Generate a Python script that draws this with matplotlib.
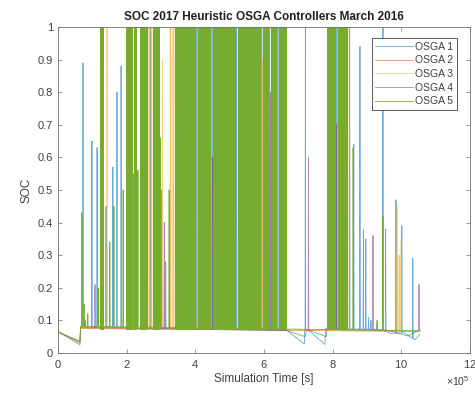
import numpy as np
import matplotlib.pyplot as plt
from matplotlib.ticker import FuncFormatter, ScalarFormatter

plt.rcParams['font.family'] = ['Liberation Sans', 'DejaVu Sans']
plt.rcParams['mathtext.fontset'] = 'custom'
plt.rcParams['mathtext.rm'] = 'Liberation Sans'

# ---------------------------------
# Data, time in seconds
# ---------------------------------
series_names = ["OSGA 1", "OSGA 2", "OSGA 3", "OSGA 4", "OSGA 5"]
series_colors = ["#0072BD", "#D95319", "#EDB120", "#7E2F8E", "#77AC30"]

# slow baseline of each controller (between charging spikes)
base_t_1 = [0, 0.64e5, 0.66e5, 6.66e5, 7.18e5, 7.19e5, 7.32e5, 7.78e5, 7.80e5, 9.40e5, 9.70e5, 10.10e5, 10.40e5, 10.55e5]
base_v_1 = [0.066, 0.025, 0.080, 0.070, 0.028, 0.070, 0.068, 0.026, 0.075, 0.072, 0.060, 0.062, 0.040, 0.058]
base_t_2 = [0, 0.64e5, 0.66e5, 10.55e5]
base_v_2 = [0.065, 0.030, 0.075, 0.066]
base_t_3 = [0, 0.64e5, 0.66e5, 10.55e5]
base_v_3 = [0.065, 0.032, 0.076, 0.066]
base_t_4 = [0, 0.64e5, 0.66e5, 6.66e5, 7.20e5, 7.24e5, 7.36e5, 7.82e5, 7.84e5, 9.60e5, 10.20e5, 10.55e5]
base_v_4 = [0.064, 0.035, 0.078, 0.069, 0.050, 0.069, 0.068, 0.050, 0.072, 0.070, 0.052, 0.072]
base_t_5 = [0, 2.0e3, 0.64e5, 0.66e5, 10.55e5]
base_v_5 = [0.330, 0.064, 0.036, 0.082, 0.068]

# charging spikes: time and peak SOC
spike_t_1 = [0.73e5, 0.99e5, 1.14e5, 1.40e5, 1.60e5, 1.72e5, 1.84e5, 2.04e5, 2.21e5, 2.70e5, 3.02e5,
             3.14e5, 4.05e5, 4.49e5, 5.21e5, 5.94e5, 6.17e5, 6.41e5, 7.21e5, 8.13e5, 8.50e5, 8.62e5,
             8.80e5, 8.90e5, 8.97e5, 9.05e5, 9.12e5, 9.30e5, 9.47e5, 9.55e5, 9.85e5, 10.02e5, 10.34e5]
spike_v_1 = [0.89, 0.65, 0.63, 0.45, 0.57, 0.80, 0.88, 1.00, 0.55, 1.00, 0.50,
             0.28, 1.00, 1.00, 1.00, 1.00, 1.00, 1.00, 1.00, 1.00, 1.00, 0.64,
             0.94, 0.38, 0.35, 0.11, 0.10, 0.09, 1.00, 0.38, 0.47, 0.39, 0.29]
spike_t_2 = [1.25e5, 2.10e5, 3.50e5, 4.80e5, 5.60e5, 8.30e5]
spike_v_2 = [0.60, 1.00, 1.00, 1.00, 1.00, 0.90]
spike_t_3 = [1.43e5, 2.27e5, 2.66e5, 2.72e5, 3.05e5, 3.28e5, 3.36e5, 4.06e5, 5.96e5, 9.88e5, 9.95e5, 10.00e5]
spike_v_3 = [1.00, 1.00, 1.00, 1.00, 0.90, 1.00, 1.00, 0.95, 0.90, 0.45, 0.30, 0.35]
spike_t_4 = [1.08e5, 3.10e5, 4.50e5, 6.19e5, 7.30e5, 8.11e5, 9.18e5, 10.52e5]
spike_v_4 = [0.21, 0.40, 0.60, 0.80, 0.60, 0.70, 0.36, 0.21]
spike_t_5 = [0.70e5, 0.76e5, 0.80e5, 0.87e5, 1.17e5, 1.51e5, 1.63e5, 1.90e5, 2.33e5, 2.98e5,
             3.24e5, 8.60e5, 9.30e5, 9.47e5]
spike_v_5 = [0.43, 0.15, 0.10, 0.12, 0.20, 0.34, 0.45, 0.50, 0.56, 0.66,
             0.50, 0.63, 0.10, 0.42]

# periods where OSGA 5 cycles so fast that it fills 0.07..1
band_start_5 = [1.22e5, 1.98e5, 2.22e5, 2.39e5, 2.77e5, 3.41e5, 4.08e5, 4.52e5, 5.24e5,
                5.97e5, 6.20e5, 6.44e5, 7.84e5, 8.16e5]
band_end_5 = [1.34e5, 2.19e5, 2.30e5, 2.62e5, 2.97e5, 4.02e5, 4.46e5, 5.18e5, 5.91e5,
              6.15e5, 6.38e5, 6.66e5, 8.10e5, 8.45e5]
# periods where OSGA 3 cycles densely (pale streaks)
band_start_3 = [2.62e5, 3.23e5, 8.45e5, 9.85e5]
band_end_3 = [2.77e5, 3.41e5, 8.52e5, 10.03e5]
band_high_3 = [1.0, 1.0, 1.0, 0.30]
band_low, band_high = 0.07, 1.0

bases = [(base_t_1, base_v_1), (base_t_2, base_v_2), (base_t_3, base_v_3),
         (base_t_4, base_v_4), (base_t_5, base_v_5)]
spikes = [(spike_t_1, spike_v_1), (spike_t_2, spike_v_2), (spike_t_3, spike_v_3),
          (spike_t_4, spike_v_4), (spike_t_5, spike_v_5)]


def build_trace(bt, bv, st, sv, half=900):
    t = list(bt)
    v = list(bv)
    for ts, vs in zip(st, sv):
        b = np.interp(ts, bt, bv)
        t += [ts - half, ts, ts + half]
        v += [b, vs, b]
    order = np.argsort(t, kind="stable")
    return np.array(t)[order], np.array(v)[order]


# ---------------------------------
# Plot
# ---------------------------------
fig = plt.figure(figsize=(4.75, 3.96), dpi=100)
ax = fig.add_axes([0.122, 0.1086, 0.867, 0.8234])

handles = []
for i, (name, color) in enumerate(zip(series_names, series_colors)):
    t, v = build_trace(*bases[i], *spikes[i])
    alpha = 1.0 if i == 4 else 0.6
    h, = ax.plot(t, v, color=color, lw=0.6, alpha=alpha, label=name, zorder=2 + i * 0.1)
    handles.append(h)

for s, e, top in zip(band_start_3, band_end_3, band_high_3):
    ax.fill_between([s, e], band_low, top, color=series_colors[2], alpha=0.25, lw=0, zorder=2.25)

for s, e in zip(band_start_5, band_end_5):
    ax.fill_between([s, e], band_low, band_high, color=series_colors[4], lw=0, zorder=2.45)

ax.set_xlim(0, 12e5)
ax.set_ylim(0, 1)
ax.set_xticks(np.arange(0, 12.1e5, 2e5))
ax.set_yticks(np.arange(0, 1.01, 0.1))
ax.yaxis.set_major_formatter(FuncFormatter(lambda val, pos: f"{val:g}"))
fmt = ScalarFormatter(useMathText=True)
fmt.set_powerlimits((5, 5))
ax.xaxis.set_major_formatter(fmt)
ax.xaxis.get_offset_text().set_fontsize(7.5)
ax.xaxis.get_offset_text().set_color("#505050")

ax.tick_params(direction="in", top=True, right=True, length=3, width=0.5,
               colors="#707070", labelcolor="#404040", labelsize=8)
for sp in ax.spines.values():
    sp.set_color("#707070")
    sp.set_linewidth(0.6)

ax.set_title("SOC 2017 Heuristic OSGA Controllers March 2016", fontsize=8.5,
             fontweight="bold", color="#202020", pad=5)
ax.set_xlabel("Simulation Time [s]", fontsize=8.5, color="#404040", labelpad=2)
ax.set_ylabel("SOC", fontsize=8.5, color="#404040", labelpad=4)

leg = ax.legend(handles=handles, loc="upper right", bbox_to_anchor=(0.968, 0.966),
                fontsize=7.5, frameon=True, fancybox=False, framealpha=1,
                edgecolor="#404040", handlelength=3.6, handletextpad=0.2,
                labelspacing=0.35, borderpad=0.35, borderaxespad=0)
leg.get_frame().set_linewidth(0.6)
for txt in leg.get_texts():
    txt.set_color("#404040")

plt.savefig("out.png", dpi=100)
